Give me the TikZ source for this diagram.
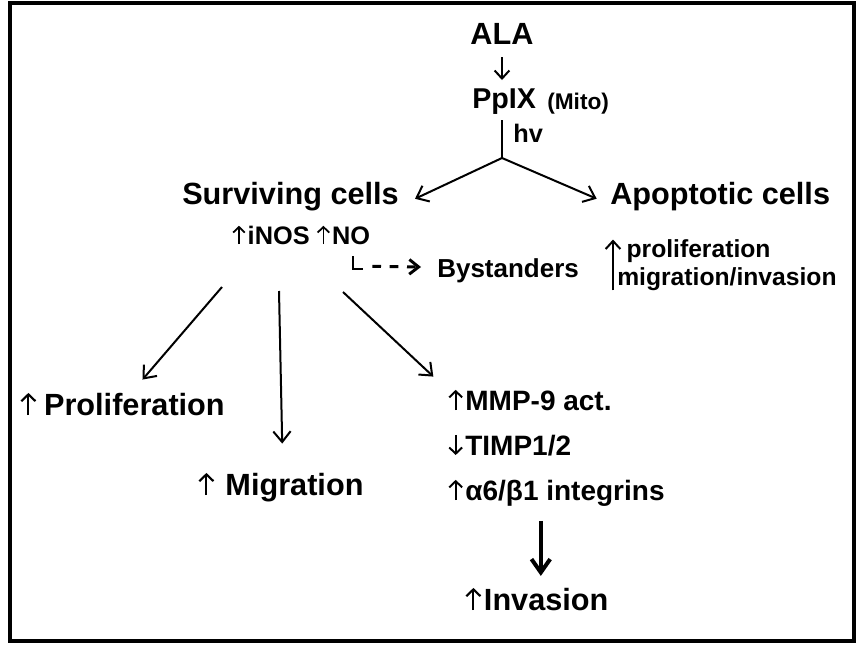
\documentclass[tikz,border=0pt]{standalone}
\usepackage{fontspec}
\setmainfont{Liberation Sans}
\usetikzlibrary{arrows.meta,positioning}
\newcommand{\upar}{\tikz[baseline=0pt,x=1pt,y=1pt]\draw[line width=0.07em,
  -{Straight Barb[length=0.22em,width=0.46em]}] (0,0) -- (0,0.72em);\hspace{0.08em}}
\newcommand{\downar}{\tikz[baseline=0pt,x=1pt,y=1pt]\draw[line width=0.07em,
  -{Straight Barb[length=0.22em,width=0.46em]}] (0,0.72em) -- (0,0);\hspace{0.08em}}

\begin{document}
\begin{tikzpicture}[x=0.75pt,y=-0.75pt,
  txt/.style={inner sep=0pt, anchor=base west, font=\bfseries},
  conn/.style={line width=1.5pt, -{Straight Barb[length=8pt,width=13pt]}},
  smallconn/.style={line width=1.5pt, -{Straight Barb[length=6pt,width=11pt]}},
  bigconn/.style={line width=3pt, -{Straight Barb[length=10pt,width=14pt]}}]
\def\titlesize{\fontsize{23}{27}\selectfont}
\def\midsize{\fontsize{21}{25}\selectfont}
\def\smallsize{\fontsize{19}{20.5}\selectfont}
\def\tinysize{\fontsize{17}{20}\selectfont}

\useasboundingbox (0,0) rectangle (866,660);
\draw[line width=3pt] (10,3) rectangle (854,641); % FRAME

% TOP: ALA -> PpIX -> fork
\node[txt, anchor=base, font=\bfseries\titlesize] (ala) at (502,45) {ALA};
\node[txt, font=\bfseries\fontsize{21.5}{25}\selectfont] (ppix) at (472,108) {PpIX};
\node[txt, font=\bfseries\tinysize] (mito) at (547,109) {(Mito)};
\node[txt, font=\bfseries\fontsize{19}{22}\selectfont] (hv) at (513,142) {hv};
\coordinate (fork) at (502,158);

\draw[smallconn, shorten <=9pt, shorten >=6pt] (ala.south) -- (ala.south |- ppix.north);
\draw[line width=1.5pt, shorten <=4.5pt] (ppix.south -| fork) -- (fork);

\node[txt, font=\bfseries\titlesize] (surv) at (182,204) {Surviving cells};
\node[txt, font=\bfseries\titlesize] (apop) at (610,204) {Apoptotic cells};
\draw[conn] (fork) -- ([xshift=12pt,yshift=-2pt]surv.east);
\draw[conn] (fork) -- ([xshift=-10pt,yshift=-2pt]apop.west);

% SURVIVING CELLS: NO and bystanders
\node[txt, font=\bfseries\smallsize] (inos) at (232,244) {\upar iNOS \upar NO};
\node[txt, font=\bfseries\fontsize{19.5}{21}\selectfont] (byst) at (437,277) {Bystanders};
\node[txt, align=left, font=\bfseries\fontsize{18.5}{20.5}\selectfont] (effects) at (617,285)
  {\hspace*{7pt}proliferation\\migration/invasion};
\draw[smallconn] ([xshift=-3pt]effects.south west) -- ([xshift=-3pt]effects.north west);

\coordinate (ltop) at (353,256);
\draw[line width=2.2pt] (ltop) |- ++(10,13) coordinate (lend);
\draw[line width=2.2pt, dash pattern=on 6.5pt off 6.5pt, -{Straight Barb[length=7pt,width=11pt]}]
  ([xshift=7pt,yshift=2pt]lend) -- ([xshift=-12pt]byst.west |- 0,267);

% THREE OUTCOMES
\node[txt, font=\bfseries\titlesize] (prolif) at (20,415) {\upar\,Proliferation};
\node[txt, font=\bfseries\titlesize] (migr) at (198,495) {\upar\ Migration};
\node[txt, font=\bfseries\midsize] (mmp) at (448,410) {\upar MMP-9 act.};
\node[txt, font=\bfseries\midsize] (timp) at (448,455) {\downar TIMP1/2};
\node[txt, font=\bfseries\midsize] (integ) at (448,500) {\upar α6/β1 integrins};
\node[txt, font=\bfseries\titlesize] (inv) at (465,610) {\upar Invasion};

\coordinate (s1) at (222,287);
\coordinate (s2) at (279,291);
\coordinate (s3) at (343,292);
\draw[conn] (s1) -- ([xshift=15pt,yshift=9pt]prolif.north);
\draw[conn] (s2) -- ([xshift=1pt,yshift=21pt]migr.north);
\draw[conn] (s3) -- ([xshift=-11pt,yshift=9pt]mmp.north west);
\draw[bigconn] ([xshift=3pt,yshift=-11pt]integ.south -| inv.north) -- ([xshift=3pt,yshift=8pt]inv.north);
\end{tikzpicture}
\end{document}
